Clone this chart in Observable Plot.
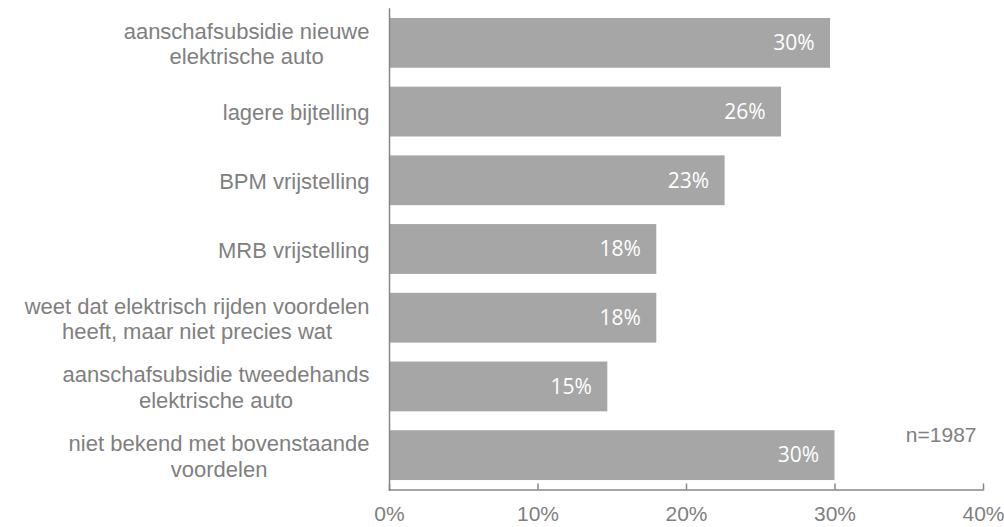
<!DOCTYPE html>
<html><head><meta charset="utf-8">
<script src="https://cdn.jsdelivr.net/npm/d3@7"></script>
<script src="https://cdn.jsdelivr.net/npm/@observablehq/plot@0.6"></script>
<style>
body{margin:0;background:#fff}
</style>
</head><body><div id="chart"></div>
<script>
const categories = [
  "aanschafsubsidie nieuwe\nelektrische auto",
  "lagere bijtelling",
  "BPM vrijstelling",
  "MRB vrijstelling",
  "weet dat elektrisch rijden voordelen\nheeft, maar niet precies wat",
  "aanschafsubsidie tweedehands\nelektrische auto",
  "niet bekend met bovenstaande\nvoordelen"
];
const values = [29.7, 26.4, 22.6, 18.0, 18.0, 14.7, 30.0];
const valueLabels = ["30%", "26%", "23%", "18%", "18%", "15%", "30%"];
const xTicks = [0, 10, 20, 30, 40];
const xTickLabels = ["0%", "10%", "20%", "30%", "40%"];
const note = "n=1987";

const data = categories.map((c, i) => ({cat: c, value: values[i], label: valueLabels[i]}));

const labelFont = "'Liberation Sans', Arial, sans-serif";
const labelSize = 22;
const grey = "#808080";
const axisGrey = "#878787";

const ctx = document.createElement("canvas").getContext("2d");
ctx.font = `${labelSize}px ${labelFont}`;
function blockWidth(s) {
  return d3.max(s.split("\n"), l => ctx.measureText(l).width);
}

const yLabelMarks = categories.map(c => Plot.text([c], {
  y: d => d,
  text: d => d,
  frameAnchor: "left",
  textAnchor: "middle",
  lineAnchor: "middle",
  dx: -(20 + blockWidth(c) / 2),
  lineHeight: 1.17,
  fontSize: labelSize,
  fontFamily: labelFont,
  fill: grey
}));

const chart = Plot.plot({
  width: 1004,
  height: 527,
  marginLeft: 389,
  marginRight: 21,
  marginTop: 8.5,
  marginBottom: 37.5,
  x: {domain: [0, 40], axis: null},
  y: {domain: categories, axis: null, paddingInner: 0.275, paddingOuter: 0.1375, round: false},
  marks: [
    Plot.barX(data, {x: "value", y: "cat", fill: "#a6a6a6"}),
    Plot.text(data, {x: "value", y: "cat", text: "label", textAnchor: "end", dx: -16, fill: "white",
      fontSize: 21, fontFamily: "'Open Sans', sans-serif", fontWeight: 400}),
    Plot.frame({anchor: "left", stroke: axisGrey, strokeWidth: 1.5}),
    Plot.frame({anchor: "bottom", stroke: axisGrey, strokeWidth: 1.5}),
    Plot.axisX(xTicks, {
      tickFormat: (d, i) => xTickLabels[i],
      label: null,
      tickSize: -6,
      tickPadding: 22,
      stroke: axisGrey,
      strokeWidth: 1.5,
      fill: grey,
      fontSize: 21,
      fontFamily: labelFont
    }),
    ...yLabelMarks,
    Plot.text([note], {
      y: () => categories[categories.length - 1],
      text: d => d,
      frameAnchor: "right",
      textAnchor: "end",
      dx: -7,
      dy: -20,
      fontSize: 21,
      fontFamily: labelFont,
      fill: grey
    })
  ]
});
document.getElementById("chart").appendChild(chart);
</script>
</body></html>
